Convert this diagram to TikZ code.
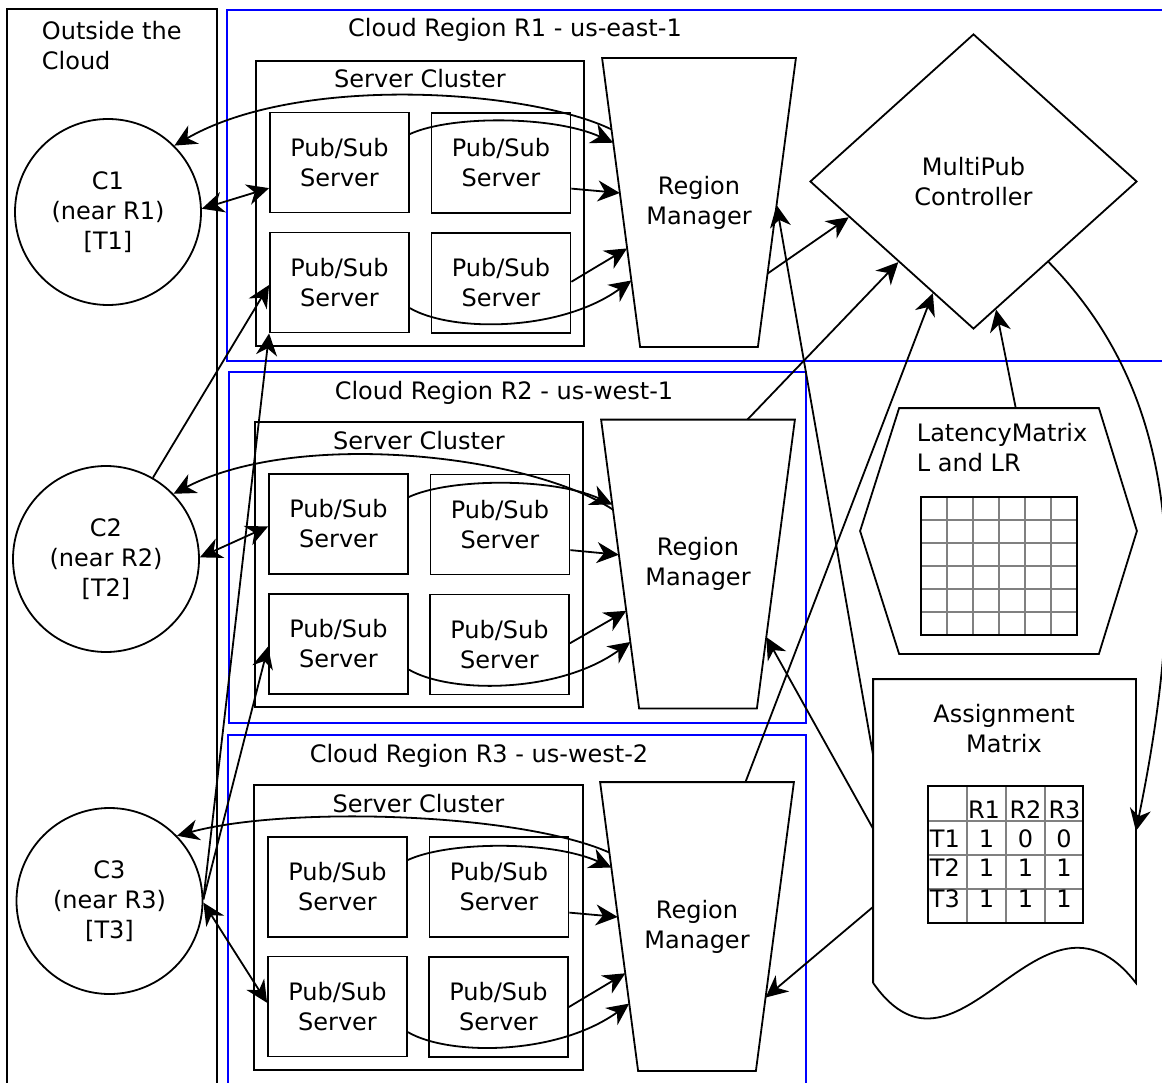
\documentclass[tikz,border=0pt]{standalone}
\usepackage{fontspec}
\setmainfont{DejaVu Sans}
\usetikzlibrary{shapes.geometric,arrows.meta,calc}
\begin{document}
\begin{tikzpicture}[x=1pt,y=-1pt,line width=1.8pt,
  font=\fontsize{24}{30}\selectfont,
  reg/.style={draw=blue,line width=1.6pt},
  psbox/.style={draw,rectangle,minimum width=139pt,minimum height=100pt,inner sep=0pt,align=center},
  client/.style={draw,circle,minimum size=186pt,inner sep=0pt,align=center},
  rmgr/.style={rectangle,minimum width=192pt,minimum height=287pt,inner sep=0pt,align=center},
  ctrl/.style={draw,diamond,minimum width=327pt,minimum height=295pt,inner sep=0pt,align=center},
  anchorbox/.style={rectangle,inner sep=0pt},
  arr/.style={-{Stealth[length=22pt,width=21pt,inset=7pt]}},
  darr/.style={{Stealth[length=22pt,width=21pt,inset=7pt]}-{Stealth[length=22pt,width=21pt,inset=7pt]}},
  lbl/.style={inner sep=0pt,anchor=base},
  gridgray/.style={draw=black!50,line width=1.3pt}
]
\useasboundingbox (0,0) rectangle (1162,1083);

% containers
\draw (7,9) rectangle (217,1110);
\node[inner sep=0pt,anchor=north west,align=left] (outtitle) at (41,20.8) {Outside the\\Cloud};
\draw[reg] (227,10) rectangle (1190,361);
\draw[reg] (229,372) rectangle (806,723);
\draw[reg] (228,735) rectangle (806,1110);
\node[lbl] (r1title) at (515,37) {Cloud Region R1 - us-east-1};
\node[lbl] (r2title) at (504,399) {Cloud Region R2 - us-west-1};
\node[lbl] (r3title) at (479,762) {Cloud Region R3 - us-west-2};

\draw (256,61) rectangle (584,346);
\draw (255,422) rectangle (583,707);
\draw (254,785) rectangle (583,1070);
\node[lbl] (sc1title) at (420,88) {Server Cluster};
\node[lbl] (sc2title) at (419,449) {Server Cluster};
\node[lbl] (sc3title) at (418.5,812) {Server Cluster};

% clients
\node[client] (c1) at (108,212) {C1\\(near R1)\\{[T1]}};
\node[client] (c2) at (106,559) {C2\\(near R2)\\{[T2]}};
\node[client] (c3) at (109.5,901) {C3\\(near R3)\\{[T3]}};

% servers
\node[psbox] (p11) at (339.5,162.5) {Pub/Sub\\Server};
\node[psbox] (p12) at (501,163) {Pub/Sub\\Server};
\node[psbox] (p13) at (339.5,282.5) {Pub/Sub\\Server};
\node[psbox] (p14) at (501,283) {Pub/Sub\\Server};
\node[psbox] (p21) at (338.5,524) {Pub/Sub\\Server};
\node[psbox] (p22) at (500,524.5) {Pub/Sub\\Server};
\node[psbox] (p23) at (338.5,644) {Pub/Sub\\Server};
\node[psbox] (p24) at (499.5,644.5) {Pub/Sub\\Server};
\node[psbox] (p31) at (337.5,887) {Pub/Sub\\Server};
\node[psbox] (p32) at (499,887) {Pub/Sub\\Server};
\node[psbox] (p33) at (337.5,1006.5) {Pub/Sub\\Server};
\node[psbox] (p34) at (498.5,1007) {Pub/Sub\\Server};

% region managers (trapezoids)
\node[rmgr] (rm1) at (699,202.5) {Region\\Manager};
\node[rmgr] (rm2) at (698,564) {Region\\Manager};
\node[rmgr] (rm3) at (697,926.5) {Region\\Manager};
\foreach \r in {rm1,rm2,rm3}{
  \draw (\r.north west) -- (\r.north east) -- ($(\r.south east)+(-38,0)$)
    -- ($(\r.south west)+(38,0)$) -- cycle;
}

% controller
\node[ctrl] (mp) at (973.5,181.5) {MultiPub\\Controller};

% latency matrix
\node[anchorbox,minimum width=275pt,minimum height=244pt] (lm) at (998.5,531) {};
\draw (lm.west) -- ($(lm.north west)+(39,0)$) -- ($(lm.north east)+(-38,0)$) -- (lm.east)
  -- ($(lm.south east)+(-38,0)$) -- ($(lm.south west)+(39,0)$) -- cycle;
\node[inner sep=0pt,anchor=north west,align=left] (lmtext) at (916,422.8) {LatencyMatrix\\L and LR};
\draw[gridgray] foreach \i in {1,...,5} {({921+26*\i},497) -- ({921+26*\i},635)}
  foreach \j in {1,...,5} {(921,{497+23*\j}) -- (1077,{497+23*\j})};
\draw (921,497) rectangle (1077,635);

% assignment matrix
\node[anchorbox,minimum width=261pt,minimum height=302pt] (am) at (1004.5,831) {};
\draw (am.south west) -- (am.north west) -- (am.north east) -- (am.south east)
  .. controls +(-95,-122) and +(86,123) .. (am.south west);
\node[inner sep=0pt,anchor=north,align=center] (amtext) at (1004,703.8) {Assignment\\Matrix};
\draw[gridgray] (967,786) -- (967,923) (1006,786) -- (1006,923) (1045,786) -- (1045,923)
  (928,821) -- (1083,821) (928,855) -- (1083,855) (928,889) -- (1083,889);
\draw (928,786) rectangle (1083,923);
\node[lbl] (hR1) at (984,818) {R1};
\node[lbl] (hR2) at (1025.5,818) {R2};
\node[lbl] (hR3) at (1064.5,818) {R3};
\node[lbl,anchor=base west] (hT1) at (929,847) {T1};
\node[lbl,anchor=base west] (hT2) at (929,876) {T2};
\node[lbl,anchor=base west] (hT3) at (929,907) {T3};
\node[lbl] (v11) at (986.5,847) {1};
\node[lbl] (v12) at (1025.5,847) {0};
\node[lbl] (v13) at (1064,847) {0};
\node[lbl] (v21) at (986.5,876) {1};
\node[lbl] (v22) at (1025.5,876) {1};
\node[lbl] (v23) at (1064,876) {1};
\node[lbl] (v31) at (986.5,907) {1};
\node[lbl] (v32) at (1025.5,907) {1};
\node[lbl] (v33) at (1064,907) {1};

% R1 connectors
\draw[arr] ($(rm1.north west)!0.247!(rm1.south west)+(9.4,0)$) .. controls +(-83,-40) and +(125,-72) .. (c1.45);
\draw[darr] (c1.2) -- (p11.200);
\draw[arr] (p11.22) .. controls +(41,-19) and +(-59,-27) .. ($(rm1.north west)!0.293!(rm1.south west)+(11.1,0)$);
\draw[arr] (p12.-20) -- ($(rm1.north west)!0.467!(rm1.south west)+(17.7,0)$);
\draw[arr] (p14.1) -- ($(rm1.north west)!0.659!(rm1.south west)+(25,0)$);
\draw[arr] (p13.-20) .. controls +(41,24) and +(-72,52) .. ($(rm1.north west)!0.77!(rm1.south west)+(29.3,0)$);
\draw[arr] ($(rm1.north east)!0.746!(rm1.south east)+(-28.3,0)$) -- (mp.196);

% R2 connectors
\draw[arr] ($(rm2.north west)!0.312!(rm2.south west)+(11.9,0)$) .. controls +(-83,-55) and +(125,-65) .. (c2.44);
\draw[darr] (c2.1) -- (p21.182);
\draw[arr] (p21.21) .. controls +(41,-19) and +(-59,-27) .. ($(rm2.north west)!0.294!(rm2.south west)+(11.2,0)$);
\draw[arr] (p22.-20) -- ($(rm2.north west)!0.468!(rm2.south west)+(17.8,0)$);
\draw[arr] (p24.1) -- ($(rm2.north west)!0.662!(rm2.south west)+(25.2,0)$);
\draw[arr] (p23.-20) .. controls +(41,24) and +(-72,52) .. ($(rm2.north west)!0.77!(rm2.south west)+(29.3,0)$);
\draw[arr] ($(rm2.north west)!0.755!(rm2.north east)$) -- (mp.227);
\draw[arr] (c2.60) -- (p13.182);

% R3 connectors
\draw[arr] ($(rm3.north west)!0.244!(rm3.south west)+(9.3,0)$) .. controls +(-90,-40) and +(110,-30) .. (c3.44);
\draw[darr] (c3.-1) -- (p33.177);
\draw[arr] (p31.21) .. controls +(41,-19) and +(-59,-27) .. ($(rm3.north west)!0.296!(rm3.south west)+(11.3,0)$);
\draw[arr] (p32.-20) -- ($(rm3.north west)!0.467!(rm3.south west)+(17.7,0)$);
\draw[arr] (p34.0) -- ($(rm3.north west)!0.662!(rm3.south west)+(25.2,0)$);
\draw[arr] (p33.-20) .. controls +(41,24) and +(-72,52) .. ($(rm3.north west)!0.767!(rm3.south west)+(29.1,0)$);
\draw[arr] ($(rm3.north west)!0.75!(rm3.north east)$) -- (mp.250);
\draw[arr] (c3.1) -- (p13.south west);
\draw[arr] (c3.1) -- (p23.182);

% right side
\draw[arr] (lm.82) -- (mp.280);
\draw[arr] (mp.313) .. controls +(125,128) and +(55,-268) .. (am.east);
\draw[arr] (am.150) -- ($(rm1.north east)!0.509!(rm1.south east)+(-19.3,0)$);
\draw[arr] (am.179) -- ($(rm2.north east)!0.753!(rm2.south east)+(-28.6,0)$);
\draw[arr] (am.210) -- ($(rm3.north east)!0.746!(rm3.south east)+(-28.3,0)$);
\end{tikzpicture}
\end{document}
